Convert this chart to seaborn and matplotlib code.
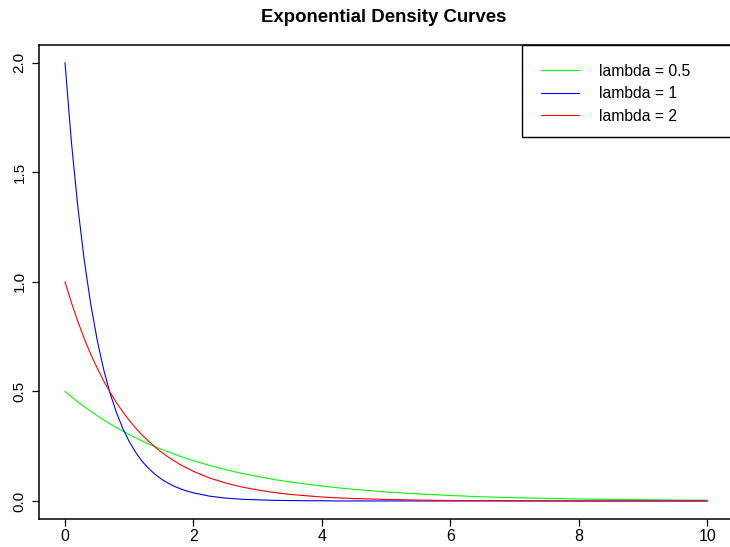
import numpy as np
import pandas as pd
import matplotlib
matplotlib.use("Agg")
import matplotlib.pyplot as plt
from matplotlib.patches import Rectangle
import seaborn as sns

# ---- data ----
x_vals = [0.0, 0.1, 0.2, 0.3, 0.4, 0.5, 0.6, 0.7, 0.8, 0.9, 1.0,
          1.1, 1.2, 1.3, 1.4, 1.5, 1.6, 1.7, 1.8, 1.9, 2.0,
          2.25, 2.5, 2.75, 3.0, 3.25, 3.5, 3.75, 4.0, 4.25, 4.5, 4.75, 5.0,
          5.5, 6.0, 6.5, 7.0, 7.5, 8.0, 8.5, 9.0, 9.5, 10.0]

green_vals = [0.500, 0.476, 0.452, 0.430, 0.409, 0.389, 0.370, 0.352, 0.335, 0.319, 0.303,
              0.288, 0.274, 0.261, 0.248, 0.236, 0.225, 0.214, 0.203, 0.193, 0.184,
              0.162, 0.143, 0.126, 0.112, 0.098, 0.087, 0.077, 0.068, 0.060, 0.053, 0.047, 0.041,
              0.032, 0.025, 0.019, 0.015, 0.012, 0.009, 0.007, 0.006, 0.004, 0.003]

blue_vals = [2.000, 1.637, 1.341, 1.098, 0.899, 0.736, 0.602, 0.493, 0.404, 0.331, 0.271,
             0.222, 0.181, 0.149, 0.122, 0.100, 0.082, 0.067, 0.055, 0.045, 0.037,
             0.022, 0.013, 0.008, 0.005, 0.003, 0.002, 0.001, 0.001, 0.000, 0.000, 0.000, 0.000,
             0.000, 0.000, 0.000, 0.000, 0.000, 0.000, 0.000, 0.000, 0.000, 0.000]

red_vals = [1.000, 0.905, 0.819, 0.741, 0.670, 0.607, 0.549, 0.497, 0.449, 0.407, 0.368,
            0.333, 0.301, 0.273, 0.247, 0.223, 0.202, 0.183, 0.165, 0.150, 0.135,
            0.105, 0.082, 0.064, 0.050, 0.039, 0.030, 0.024, 0.018, 0.014, 0.011, 0.009, 0.007,
            0.004, 0.002, 0.002, 0.001, 0.001, 0.000, 0.000, 0.000, 0.000, 0.000]

labels = ["lambda = 0.5", "lambda = 1", "lambda = 2"]
colors = ["#00FF00", "#0000FF", "#FF0000"]
x_ticks = [0, 2, 4, 6, 8, 10]
y_ticks = [0.0, 0.5, 1.0, 1.5, 2.0]
title = "Exponential Density Curves"

df = pd.concat([
    pd.DataFrame({"x": x_vals, "y": green_vals, "series": labels[0]}),
    pd.DataFrame({"x": x_vals, "y": blue_vals, "series": labels[1]}),
    pd.DataFrame({"x": x_vals, "y": red_vals, "series": labels[2]}),
], ignore_index=True)

sns.set_theme(style="ticks")
plt.rcParams["font.family"] = ["Liberation Sans", "DejaVu Sans"]
plt.rcParams["text.color"] = "black"

W, H = 730, 547
fig = plt.figure(figsize=(W / 100, H / 100), dpi=100)
# axes box in pixels: left 39.3, right 733, top 45, bottom 518.5
ax_l, ax_r, ax_t, ax_b = 39.3, 733.0, 45.0, 518.5
ax = fig.add_axes([ax_l / W, 1 - ax_b / H, (ax_r - ax_l) / W, (ax_b - ax_t) / H])

sns.lineplot(data=df, x="x", y="y", hue="series", hue_order=labels,
             palette=dict(zip(labels, colors)), linewidth=0.8, ax=ax,
             legend=False, sort=False, estimator=None)

ax.set_xlim(-0.4, 10.4)
ax.set_ylim(-0.08, 2.08)
ax.set_xticks(x_ticks)
ax.set_xticklabels([str(t) for t in x_ticks])
ax.set_yticks(y_ticks)
ax.set_yticklabels([f"{t:.1f}" for t in y_ticks])
ax.set_xlabel("")
ax.set_ylabel("")

for s in ax.spines.values():
    s.set_visible(True)
    s.set_color("black")
    s.set_linewidth(1.1)

ax.tick_params(axis="both", direction="out", length=4.8, width=0.9, color="black",
               labelcolor="black")
ax.tick_params(axis="x", pad=2.5, labelsize=11.5)
ax.tick_params(axis="y", pad=4.5, labelsize=11)
for lab in ax.get_yticklabels():
    lab.set_rotation(90)
    lab.set_va("center")
    lab.set_ha("right")
    lab.set_rotation_mode("default")

# legend box (frame drawn separately to match the reference's box exactly)
leg_l, leg_b = 521.7, 136.7
left_frac = (leg_l - ax_l) / (ax_r - ax_l)
leg = ax.legend(handles=ax.lines[:3], labels=labels, loc="upper left",
                bbox_to_anchor=(left_frac, 0, 1 - left_frac, 1.0),
                mode="expand", borderaxespad=0, fontsize=11.3,
                frameon=False, handlelength=2.45,
                handletextpad=1.25, borderpad=1.2, labelspacing=0.47)
for t in leg.get_texts():
    t.set_color("black")
frame = Rectangle((leg_l / W, 1 - leg_b / H), (ax_r - leg_l) / W, (leg_b - ax_t) / H,
                  transform=fig.transFigure, facecolor="white", edgecolor="black",
                  linewidth=1.0, zorder=4, clip_on=False)
ax.add_artist(frame)
leg.set_zorder(5)

fig.text(384 / W, 1 - 17.5 / H, title, ha="center", va="center",
         fontsize=13.4, fontweight="bold", color="black")

fig.savefig("out.png", dpi=100)
